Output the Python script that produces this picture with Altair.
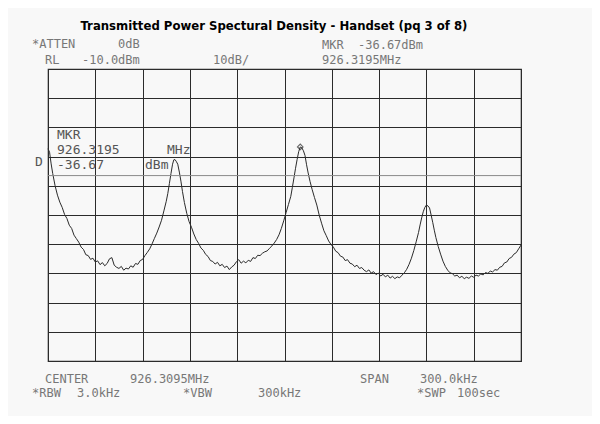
"""Spectrum analyser plot: transmitted power spectral density, handset page 3."""

import altair as alt
import pandas as pd

# Span 300 kHz around 926.3095 MHz, so offsets run 0..300 kHz from 926.1595 MHz
START_MHZ = 926.1595
SPAN_KHZ = 300
REF_LEVEL = -10.0
DB_PER_DIV = 10

FREQ_KHZ = [
    0.0, 1.0, 2.0, 3.0, 4.5, 6.0, 7.5, 9.0, 10.5, 12.0, 13.5, 15.0, 16.5, 18.0,
    19.5, 21.0, 22.5, 24.0, 25.5, 27.0, 28.5, 30.0, 31.5, 33.0, 34.5, 36.0,
    37.5, 39.0, 40.5, 42.0, 43.5, 45.0, 46.5, 48.0, 49.5, 51.0, 52.5, 54.0,
    55.5, 57.0, 58.5, 60.0, 61.5, 63.0, 64.5, 66.0, 67.5, 69.0, 70.5, 72.0,
    73.5, 75.0, 76.0, 77.0, 78.0, 79.0, 79.8, 80.5, 81.3, 82.3, 83.3, 84.3,
    85.3, 86.5, 88.0, 89.5, 91.0, 92.5, 94.0, 95.5, 97.0, 98.5, 100.0, 101.5,
    103.0, 104.5, 106.0, 107.5, 109.0, 110.5, 112.0, 113.5, 115.0, 116.5,
    118.0, 119.5, 121.0, 122.5, 124.0, 125.5, 127.0, 128.5, 130.0, 131.5,
    133.0, 134.5, 136.0, 137.5, 139.0, 140.5, 142.0, 143.5, 145.0, 146.5,
    148.0, 149.5, 151.0, 152.5, 154.0, 155.0, 156.0, 157.0, 158.0, 159.0,
    160.0, 161.0, 162.0, 163.0, 164.0, 165.0, 166.2, 167.5, 169.0, 170.5,
    172.0, 173.5, 175.0, 176.5, 178.0, 179.5, 181.0, 182.5, 184.0, 185.5,
    187.0, 188.5, 190.0, 191.5, 193.0, 194.5, 196.0, 197.5, 199.0, 200.5,
    202.0, 203.5, 205.0, 206.5, 208.0, 209.5, 211.0, 212.5, 214.0, 215.5,
    217.0, 218.5, 220.0, 221.5, 223.0, 224.5, 226.0, 227.5, 229.0, 230.5,
    232.0, 233.5, 235.0, 236.0, 237.0, 238.0, 239.0, 240.0, 241.0, 242.0,
    243.0, 244.0, 245.0, 246.0, 247.5, 249.0, 250.5, 252.0, 253.5, 255.0,
    256.5, 258.0, 259.5, 261.0, 262.5, 264.0, 265.5, 267.0, 268.5, 270.0,
    271.5, 273.0, 274.5, 276.0, 277.5, 279.0, 280.5, 282.0, 283.5, 285.0,
    286.5, 288.0, 289.5, 291.0, 292.5, 294.0, 295.5, 297.0, 298.5, 300.0,
]

LEVEL_DBM = [
    -37.3, -38.5, -42.5, -45.8, -50.0, -53.2, -55.6, -57.4, -59.8, -61.2,
    -63.5, -64.6, -66.9, -68.1, -69.3, -71.0, -71.8, -73.6, -73.9, -75.2,
    -74.8, -76.1, -75.7, -77.0, -76.3, -77.4, -76.6, -75.0, -74.6, -77.2,
    -77.9, -78.3, -77.6, -78.9, -78.2, -78.5, -77.4, -77.9, -76.6, -76.9,
    -75.6, -75.2, -73.9, -72.8, -71.6, -69.9, -68.0, -66.2, -64.1, -61.8,
    -58.6, -55.3, -52.6, -49.2, -45.8, -42.6, -41.1, -41.0, -41.6, -42.6,
    -45.3, -48.4, -52.0, -55.7, -59.4, -62.3, -64.2, -66.5, -68.4, -69.7,
    -71.3, -72.1, -73.5, -74.2, -75.6, -75.9, -76.8, -76.2, -77.4, -76.9,
    -78.0, -77.5, -78.7, -77.8, -77.2, -76.0, -75.3, -76.5, -75.8, -76.4,
    -75.5, -75.9, -74.6, -74.9, -73.8, -73.9, -73.1, -72.6, -72.3, -71.4,
    -70.6, -69.6, -68.4, -66.8, -64.6, -62.0, -59.2, -56.4, -53.6, -50.5,
    -47.3, -44.0, -41.0, -38.3, -36.7, -37.0, -38.0, -39.6, -42.8, -45.6,
    -48.5, -51.2, -54.0, -56.6, -60.0, -62.8, -65.4, -67.1, -68.9, -70.1,
    -71.0, -72.4, -72.9, -74.1, -74.4, -75.6, -75.3, -76.5, -76.8, -77.7,
    -77.2, -78.3, -78.0, -78.9, -79.4, -78.8, -79.9, -79.4, -80.4, -79.9,
    -80.9, -80.3, -81.2, -80.6, -81.6, -81.0, -81.8, -81.2, -81.5, -80.6,
    -79.8, -78.6, -76.9, -74.8, -72.2, -69.2, -66.0, -63.4, -61.0, -58.9,
    -57.4, -56.6, -56.9, -57.6, -60.0, -62.5, -65.2, -67.7, -70.8, -73.4,
    -75.8, -77.6, -78.9, -79.8, -80.1, -80.9, -80.6, -81.5, -81.0, -81.8,
    -81.3, -81.7, -80.9, -81.3, -80.6, -80.9, -80.2, -80.5, -79.7, -80.0,
    -79.2, -79.5, -78.7, -78.9, -77.9, -77.6, -76.4, -76.1, -74.9, -74.5,
    -73.4, -72.9, -71.6, -70.3,
]

MARKER_KHZ = 160.0
MARKER_DBM = -36.67
DISPLAY_LINE_DBM = -46.5

# text printed by the analyser: (label, x, y) in pixels from the graticule's top-left
HEADER_TEXT = [
    ("*ATTEN", -16, -25), ("0dB", 70, -25),
    ("MKR", 274, -24), ("-36.67dBm", 310, -24),
    ("RL", -3, -9), ("-10.0dBm", 34, -9), ("10dB/", 165, -9),
    ("926.3195MHz", 274, -9),
]
FOOTER_TEXT = [
    ("CENTER", -3, 310), ("926.3095MHz", 82, 310),
    ("SPAN", 312, 310), ("300.0kHz", 372, 310),
    ("*RBW", -16, 324), ("3.0kHz", 29, 324), ("*VBW", 135, 324),
    ("300kHz", 210, 324), ("*SWP", 369, 324), ("100sec", 409, 324),
]
MARKER_TEXT = [
    ("MKR", 9, 66), ("926.3195", 9, 81), ("MHz", 119, 81),
    ("-36.67", 9, 96), ("dBm", 97, 96), ("D", -13, 93),
]
TITLE = "Transmitted Power Spectural Density  - Handset (pq 3 of  8)"

INK = "#2b2b2b"
PRINT_GREY = "#777777"
MONO = "DejaVu Sans Mono"

trace = pd.DataFrame({"offset_khz": FREQ_KHZ, "level_dbm": LEVEL_DBM})

x_grid = list(range(0, SPAN_KHZ + 1, SPAN_KHZ // 10))
bottom = REF_LEVEL - 10 * DB_PER_DIV
y_grid = [REF_LEVEL - i * DB_PER_DIV for i in range(11)]

# every layer uses these same encodings so the graticule axes merge cleanly
x_enc = alt.X(
    "offset_khz:Q",
    scale=alt.Scale(domain=[0, SPAN_KHZ], nice=False, zero=False),
    axis=alt.Axis(values=x_grid, labels=False, ticks=False, domain=False,
                  title=None, grid=True, gridColor=INK, gridWidth=1),
)
y_enc = alt.Y(
    "level_dbm:Q",
    scale=alt.Scale(domain=[bottom, REF_LEVEL], nice=False, zero=False),
    axis=alt.Axis(values=y_grid, labels=False, ticks=False, domain=False,
                  title=None, grid=True, gridColor=INK, gridWidth=1),
)

line = alt.Chart(trace).mark_line(color=INK, strokeWidth=1).encode(x=x_enc, y=y_enc)

display_line = alt.Chart(alt.Data(values=[{"level_dbm": DISPLAY_LINE_DBM}])).mark_rule(
    color="#8a8a8a", strokeWidth=1
).encode(y=y_enc)

marker = alt.Chart(
    alt.Data(values=[{"offset_khz": MARKER_KHZ, "level_dbm": MARKER_DBM}])
).mark_point(shape="diamond", size=30, filled=False, color=INK, strokeWidth=1.2).encode(
    x=x_enc, y=y_enc
)


def label(text, px, py, color=PRINT_GREY, size=12):
    return alt.Chart(alt.Data(values=[{}])).mark_text(
        align="left", baseline="middle", font=MONO, fontSize=size, color=color
    ).encode(x=alt.value(px), y=alt.value(py), text=alt.value(text))


texts = [label(t, px, py) for t, px, py in HEADER_TEXT + FOOTER_TEXT]
texts += [label(t, px, py, color="#555555", size=13) for t, px, py in MARKER_TEXT]

title = alt.Chart(alt.Data(values=[{}])).mark_text(
    align="center", baseline="middle",
    font="Liberation Sans Narrow, DejaVu Sans Condensed, Liberation Sans, sans-serif",
    fontSize=13, fontWeight="bold", color="black"
).encode(x=alt.value(226), y=alt.value(-43), text=alt.value(TITLE))

chart = alt.layer(line, display_line, marker, title, *texts).properties(
    width=473,
    height=292,
    padding={"left": 40, "top": 61, "right": 71, "bottom": 55},
    autosize=alt.AutoSizeParams(type="none"),
    background="#f8f8f8",
).configure_view(stroke=INK, strokeWidth=1.2, fill="#f8f8f8")

chart.save("out.html", embed_options={"renderer": "svg", "actions": False})
